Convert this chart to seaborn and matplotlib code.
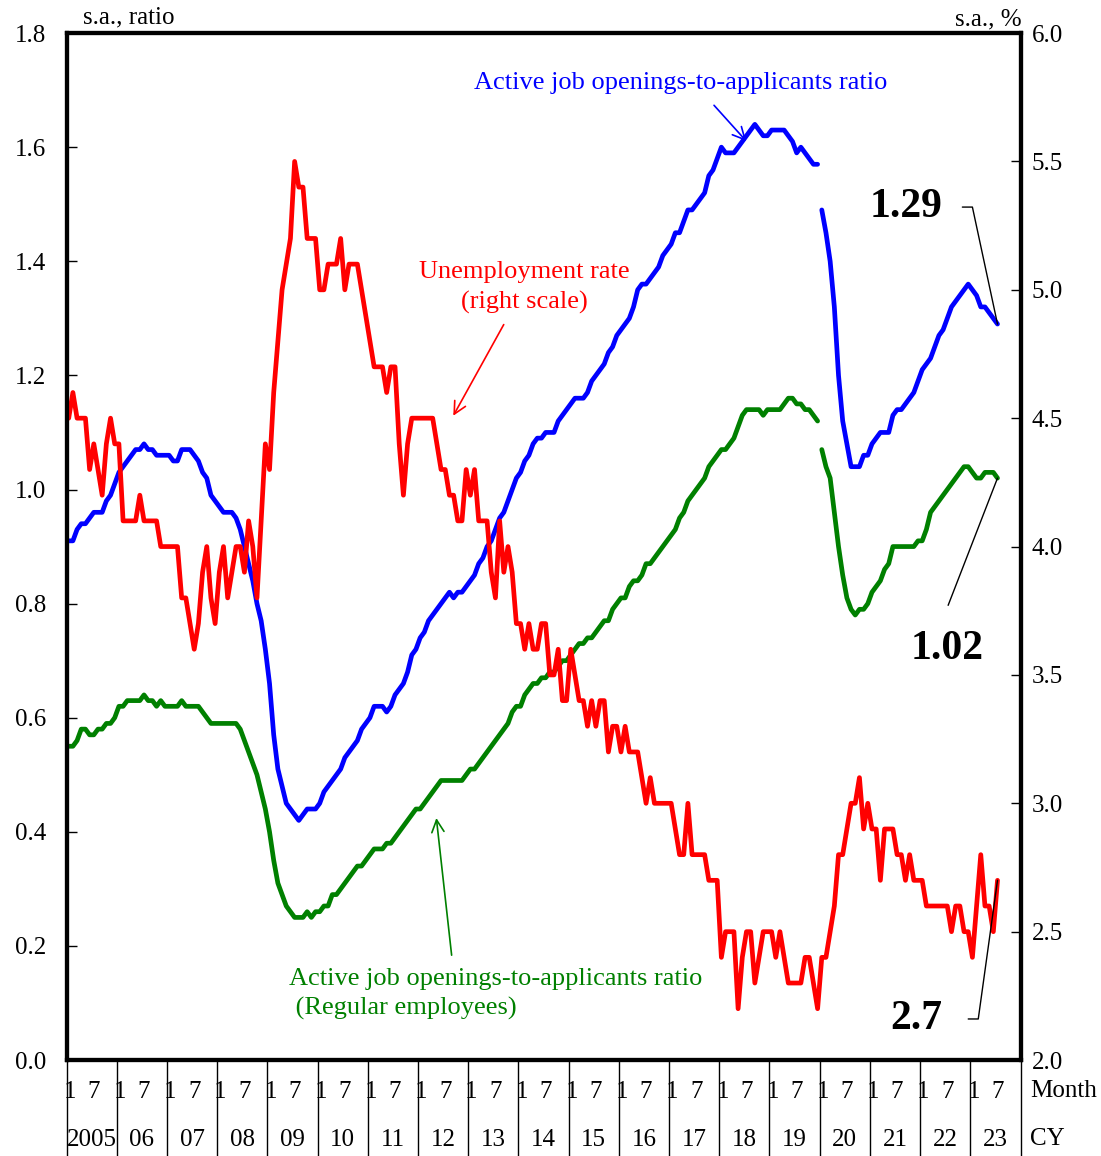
import numpy as np
import matplotlib.pyplot as plt
import seaborn as sns

# monthly data, Jan 2005 - Jul 2023
# unemployment rate, s.a., % (right scale)
unemp = [
    4.5, 4.6, 4.5, 4.5, 4.5, 4.3, 4.4, 4.3, 4.2, 4.4, 4.5, 4.4,  # 2005
    4.4, 4.1, 4.1, 4.1, 4.1, 4.2, 4.1, 4.1, 4.1, 4.1, 4.0, 4.0,  # 2006
    4.0, 4.0, 4.0, 3.8, 3.8, 3.7, 3.6, 3.7, 3.9, 4.0, 3.8, 3.7,  # 2007
    3.9, 4.0, 3.8, 3.9, 4.0, 4.0, 3.9, 4.1, 4.0, 3.8, 4.1, 4.4,  # 2008
    4.3, 4.6, 4.8, 5.0, 5.1, 5.2, 5.5, 5.4, 5.4, 5.2, 5.2, 5.2,  # 2009
    5.0, 5.0, 5.1, 5.1, 5.1, 5.2, 5.0, 5.1, 5.1, 5.1, 5.0, 4.9,  # 2010
    4.8, 4.7, 4.7, 4.7, 4.6, 4.7, 4.7, 4.4, 4.2, 4.4, 4.5, 4.5,  # 2011
    4.5, 4.5, 4.5, 4.5, 4.4, 4.3, 4.3, 4.2, 4.2, 4.1, 4.1, 4.3,  # 2012
    4.2, 4.3, 4.1, 4.1, 4.1, 3.9, 3.8, 4.1, 3.9, 4.0, 3.9, 3.7,  # 2013
    3.7, 3.6, 3.7, 3.6, 3.6, 3.7, 3.7, 3.5, 3.5, 3.6, 3.4, 3.4,  # 2014
    3.6, 3.5, 3.4, 3.4, 3.3, 3.4, 3.3, 3.4, 3.4, 3.2, 3.3, 3.3,  # 2015
    3.2, 3.3, 3.2, 3.2, 3.2, 3.1, 3.0, 3.1, 3.0, 3.0, 3.0, 3.0,  # 2016
    3.0, 2.9, 2.8, 2.8, 3.0, 2.8, 2.8, 2.8, 2.8, 2.7, 2.7, 2.7,  # 2017
    2.4, 2.5, 2.5, 2.5, 2.2, 2.4, 2.5, 2.5, 2.3, 2.4, 2.5, 2.5,  # 2018
    2.5, 2.4, 2.5, 2.4, 2.3, 2.3, 2.3, 2.3, 2.4, 2.4, 2.3, 2.2,  # 2019
    2.4, 2.4, 2.5, 2.6, 2.8, 2.8, 2.9, 3.0, 3.0, 3.1, 2.9, 3.0,  # 2020
    2.9, 2.9, 2.7, 2.9, 2.9, 2.9, 2.8, 2.8, 2.7, 2.8, 2.7, 2.7,  # 2021
    2.7, 2.6, 2.6, 2.6, 2.6, 2.6, 2.6, 2.5, 2.6, 2.6, 2.5, 2.5,  # 2022
    2.4, 2.6, 2.8, 2.6, 2.6, 2.5, 2.7,                           # 2023
]

# active job openings-to-applicants ratio, old basis (Jan 2005 - Dec 2019)
ratio_old = [
    0.91, 0.91, 0.93, 0.94, 0.94, 0.95, 0.96, 0.96, 0.96, 0.98, 0.99, 1.01,
    1.03, 1.04, 1.05, 1.06, 1.07, 1.07, 1.08, 1.07, 1.07, 1.06, 1.06, 1.06,
    1.06, 1.05, 1.05, 1.07, 1.07, 1.07, 1.06, 1.05, 1.03, 1.02, 0.99, 0.98,
    0.97, 0.96, 0.96, 0.96, 0.95, 0.93, 0.90, 0.87, 0.84, 0.80, 0.77, 0.72,
    0.66, 0.57, 0.51, 0.48, 0.45, 0.44, 0.43, 0.42, 0.43, 0.44, 0.44, 0.44,
    0.45, 0.47, 0.48, 0.49, 0.50, 0.51, 0.53, 0.54, 0.55, 0.56, 0.58, 0.59,
    0.60, 0.62, 0.62, 0.62, 0.61, 0.62, 0.64, 0.65, 0.66, 0.68, 0.71, 0.72,
    0.74, 0.75, 0.77, 0.78, 0.79, 0.80, 0.81, 0.82, 0.81, 0.82, 0.82, 0.83,
    0.84, 0.85, 0.87, 0.88, 0.90, 0.91, 0.93, 0.95, 0.96, 0.98, 1.00, 1.02,
    1.03, 1.05, 1.06, 1.08, 1.09, 1.09, 1.10, 1.10, 1.10, 1.12, 1.13, 1.14,
    1.15, 1.16, 1.16, 1.16, 1.17, 1.19, 1.20, 1.21, 1.22, 1.24, 1.25, 1.27,
    1.28, 1.29, 1.30, 1.32, 1.35, 1.36, 1.36, 1.37, 1.38, 1.39, 1.41, 1.42,
    1.43, 1.45, 1.45, 1.47, 1.49, 1.49, 1.50, 1.51, 1.52, 1.55, 1.56, 1.58,
    1.60, 1.59, 1.59, 1.59, 1.60, 1.61, 1.62, 1.63, 1.64, 1.63, 1.62, 1.62,
    1.63, 1.63, 1.63, 1.63, 1.62, 1.61, 1.59, 1.60, 1.59, 1.58, 1.57, 1.57,
]
# new basis (Jan 2020 - Jul 2023)
ratio_new = [
    1.49, 1.45, 1.40, 1.32, 1.20, 1.12, 1.08, 1.04, 1.04, 1.04, 1.06, 1.06,
    1.08, 1.09, 1.10, 1.10, 1.10, 1.13, 1.14, 1.14, 1.15, 1.16, 1.17, 1.19,
    1.21, 1.22, 1.23, 1.25, 1.27, 1.28, 1.30, 1.32, 1.33, 1.34, 1.35, 1.36,
    1.35, 1.34, 1.32, 1.32, 1.31, 1.30, 1.29,
]

# ratio for regular employees
regular_old = [
    0.55, 0.55, 0.56, 0.58, 0.58, 0.57, 0.57, 0.58, 0.58, 0.59, 0.59, 0.60,
    0.62, 0.62, 0.63, 0.63, 0.63, 0.63, 0.64, 0.63, 0.63, 0.62, 0.63, 0.62,
    0.62, 0.62, 0.62, 0.63, 0.62, 0.62, 0.62, 0.62, 0.61, 0.60, 0.59, 0.59,
    0.59, 0.59, 0.59, 0.59, 0.59, 0.58, 0.56, 0.54, 0.52, 0.50, 0.47, 0.44,
    0.40, 0.35, 0.31, 0.29, 0.27, 0.26, 0.25, 0.25, 0.25, 0.26, 0.25, 0.26,
    0.26, 0.27, 0.27, 0.29, 0.29, 0.30, 0.31, 0.32, 0.33, 0.34, 0.34, 0.35,
    0.36, 0.37, 0.37, 0.37, 0.38, 0.38, 0.39, 0.40, 0.41, 0.42, 0.43, 0.44,
    0.44, 0.45, 0.46, 0.47, 0.48, 0.49, 0.49, 0.49, 0.49, 0.49, 0.49, 0.50,
    0.51, 0.51, 0.52, 0.53, 0.54, 0.55, 0.56, 0.57, 0.58, 0.59, 0.61, 0.62,
    0.62, 0.64, 0.65, 0.66, 0.66, 0.67, 0.67, 0.68, 0.68, 0.69, 0.70, 0.70,
    0.71, 0.72, 0.73, 0.73, 0.74, 0.74, 0.75, 0.76, 0.77, 0.77, 0.79, 0.80,
    0.81, 0.81, 0.83, 0.84, 0.84, 0.85, 0.87, 0.87, 0.88, 0.89, 0.90, 0.91,
    0.92, 0.93, 0.95, 0.96, 0.98, 0.99, 1.00, 1.01, 1.02, 1.04, 1.05, 1.06,
    1.07, 1.07, 1.08, 1.09, 1.11, 1.13, 1.14, 1.14, 1.14, 1.14, 1.13, 1.14,
    1.14, 1.14, 1.14, 1.15, 1.16, 1.16, 1.15, 1.15, 1.14, 1.14, 1.13, 1.12,
]
regular_new = [
    1.07, 1.04, 1.02, 0.96, 0.90, 0.85, 0.81, 0.79, 0.78, 0.79, 0.79, 0.80,
    0.82, 0.83, 0.84, 0.86, 0.87, 0.90, 0.90, 0.90, 0.90, 0.90, 0.90, 0.91,
    0.91, 0.93, 0.96, 0.97, 0.98, 0.99, 1.00, 1.01, 1.02, 1.03, 1.04, 1.04,
    1.03, 1.02, 1.02, 1.03, 1.03, 1.03, 1.02,
]

years = ["2005", "06", "07", "08", "09", "10", "11", "12", "13", "14",
         "15", "16", "17", "18", "19", "20", "21", "22", "23"]
month_marks = ["1", "7"]

sns.set_style("white")
plt.rcParams['font.family'] = ['Liberation Serif', 'DejaVu Serif']
plt.rcParams['text.color'] = 'black'
plt.rcParams['ytick.color'] = 'black'
plt.rcParams['xtick.color'] = 'black'
plt.rcParams['axes.labelcolor'] = 'black'

fig = plt.figure(figsize=(11.01, 11.56), dpi=100)
ax = fig.add_axes([0.0605, 0.0830, 0.8664, 0.8884])
ax2 = ax.twinx()

m_old = np.arange(len(ratio_old))
m_new = np.arange(len(ratio_old), len(ratio_old) + len(ratio_new))
m_all = np.arange(len(unemp))

lw = 3.4
kw = dict(legend=False, estimator=None, solid_capstyle='round', solid_joinstyle='round')
sns.lineplot(x=m_old, y=regular_old, ax=ax, color="green", lw=lw, **kw)
sns.lineplot(x=m_new, y=regular_new, ax=ax, color="green", lw=lw, **kw)
sns.lineplot(x=m_old, y=ratio_old, ax=ax, color="blue", lw=lw, **kw)
sns.lineplot(x=m_new, y=ratio_new, ax=ax, color="blue", lw=lw, **kw)
sns.lineplot(x=m_all, y=unemp, ax=ax2, color="red", lw=lw, **kw)

ax.set_xlim(-0.5, 12 * len(years) - 0.5)
ax.set_ylim(0, 1.8)
ax2.set_ylim(2, 6)
ax.set_yticks(np.arange(0, 1.81, 0.2))
ax2.set_yticks(np.arange(2, 6.01, 0.5))
ax.set_yticklabels([f"{v:.1f}" for v in np.arange(0, 1.81, 0.2)])
ax2.set_yticklabels([f"{v:.1f}" for v in np.arange(2, 6.01, 0.5)])
ax.set_xticks([])
ax.set_xlabel("")
ax.set_ylabel("")
ax2.set_ylabel("")
ax.tick_params(axis='y', direction='in', length=7, width=1, pad=15, labelsize=18,
               colors='black')
ax2.tick_params(axis='y', direction='in', length=7, width=1, pad=8, labelsize=18,
                colors='black')
for a in (ax, ax2):
    for s in a.spines.values():
        s.set_linewidth(3)
        s.set_color("black")

# month / year rows under the axis
trans = ax.get_xaxis_transform()
for k, yr in enumerate(years):
    ax.text(12 * k + 0.3, -0.031, month_marks[0], transform=trans, ha='center', va='center', fontsize=18)
    ax.text(12 * k + 6, -0.031, month_marks[1], transform=trans, ha='center', va='center', fontsize=18)
    ax.text(12 * k + 5.5, -0.078, yr, transform=trans, ha='center', va='center', fontsize=18)
ax.vlines(np.arange(len(years) + 1) * 12 - 0.5, -0.0935, 0, transform=trans, color="black", lw=1, clip_on=False)
fig.text(1030 / 1101, 1 - 1091 / 1156, "Month", ha='left', va='center', fontsize=18)
fig.text(1030 / 1101, 1 - 1139 / 1156, "CY", ha='left', va='center', fontsize=18)

fig.text(83 / 1101, 1 - 17 / 1156, "s.a., ratio", ha='left', va='center', fontsize=18)
fig.text(1022 / 1101, 1 - 19 / 1156, "s.a., %", ha='right', va='center', fontsize=18)

# series labels
ax.text(146.3, 1.712, "Active job openings-to-applicants ratio", color="blue",
        ha='center', va='center', fontsize=19)
ax.annotate("", xy=(162.4, 1.607), xytext=(153.8, 1.677),
            arrowprops=dict(arrowstyle='->', color="blue", lw=1.2, mutation_scale=22))

ax2.text(108.9, 5.01, "Unemployment rate\n(right scale)", color="red",
         ha='center', va='center', fontsize=19, linespacing=1.45)
ax2.annotate("", xy=(91.6, 4.50), xytext=(104.3, 4.874),
             arrowprops=dict(arrowstyle='->', color="red", lw=1.2, mutation_scale=22))

ax.text(52.7, 0.116, "Active job openings-to-applicants ratio\n (Regular employees)", color="green",
        ha='left', va='center', fontsize=19, linespacing=1.42)
ax.annotate("", xy=(87.8, 0.429), xytext=(91.6, 0.179),
            arrowprops=dict(arrowstyle='->', color="green", lw=1.2, mutation_scale=22))

# latest values
ax.text(200.2, 1.495, "1.29", ha='center', va='center', fontsize=30, fontweight='bold', color='black')
ax.plot([213.6, 216.0, m_new[-1]], [1.495, 1.495, ratio_new[-1]], color="black", lw=1)
ax.text(210.0, 0.72, "1.02", ha='center', va='center', fontsize=30, fontweight='bold', color='black')
ax.plot([210.2, m_new[-1]], [0.797, regular_new[-1]], color="black", lw=1)
ax2.text(202.6, 2.16, "2.7", ha='center', va='center', fontsize=30, fontweight='bold', color='black')
ax2.plot([215.0, 217.4, m_all[-1]], [2.16, 2.16, unemp[-1]], color="black", lw=1)

fig.savefig("out.png", dpi=100)
